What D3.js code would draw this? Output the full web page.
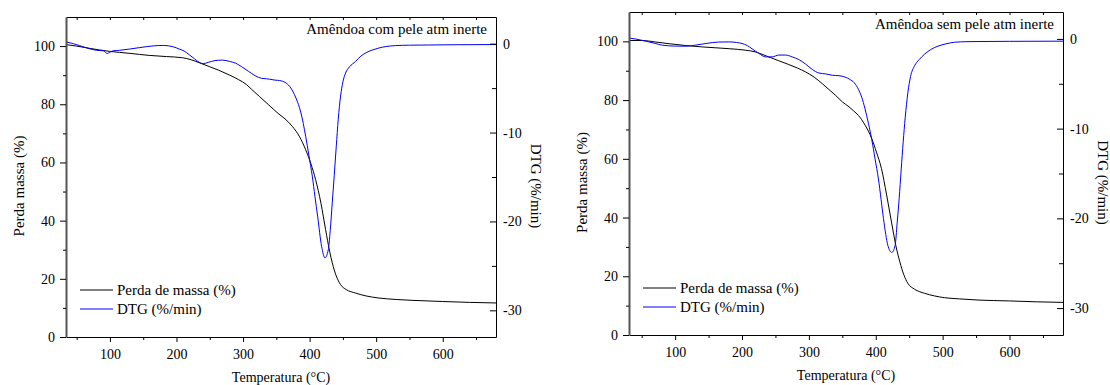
<!DOCTYPE html>
<html>
<head>
<meta charset="utf-8">
<script src="https://cdn.jsdelivr.net/npm/d3@7"></script>
<style>
  body { margin: 0; background: #fff; }
  svg text { font-family: "Liberation Serif", "Times New Roman", Times, "DejaVu Serif", serif; fill: #000; }
</style>
</head>
<body>
<div id="container"></div>
<script>
/* DATA */
// Amêndoa com pele - mass loss (TG)
const comTgTemp = [34, 50, 70, 99, 130, 159, 185, 209, 222, 234, 250, 263.5, 280, 293, 305, 313, 325, 338, 354, 363, 374, 385, 394, 402, 409, 417, 424, 430, 434, 440, 446.5, 455, 469, 485, 504, 530, 554, 600, 640, 680];
const comTgMass = [100.5, 100.0, 99.2, 98.2, 97.5, 96.8, 96.4, 96.0, 95.3, 94.3, 92.9, 91.7, 90.0, 88.5, 86.8, 85.1, 82.6, 79.9, 76.6, 75.0, 72.4, 68.8, 64.4, 59.5, 54.1, 46.0, 36.9, 29.5, 25.5, 21.0, 18.0, 16.3, 15.1, 14.1, 13.4, 12.9, 12.6, 12.2, 11.9, 11.7];
// Amêndoa com pele - DTG
const comDtgTemp = [34, 45, 64, 80, 90, 96, 99, 105, 114, 144, 165, 180, 195, 204, 212, 219, 227, 234, 240, 248, 258, 269, 280, 289, 298, 308, 318, 328, 335, 340, 348, 355, 363, 370, 377, 382, 387, 394, 399, 404, 408, 412, 418, 423, 428, 431, 434, 437, 440, 443, 446.5, 450, 454, 460, 469, 477, 486, 495, 504, 515, 529, 550, 579, 620, 680];
const comDtg = [0.2, 0.0, -0.45, -0.75, -0.8, -1.1, -1.0, -0.8, -0.75, -0.45, -0.25, -0.2, -0.35, -0.6, -0.85, -1.24, -1.7, -2.1, -2.25, -2.1, -1.9, -1.85, -2.0, -2.2, -2.6, -3.1, -3.6, -3.9, -3.95, -4.0, -4.1, -4.15, -4.35, -4.8, -5.7, -6.6, -7.8, -10.4, -12.6, -14.9, -17.2, -19.4, -22.8, -24.1, -23.2, -21.0, -17.9, -14.8, -11.6, -8.5, -5.9, -4.3, -3.3, -2.6, -2.0, -1.4, -0.97, -0.7, -0.49, -0.32, -0.22, -0.17, -0.15, -0.12, -0.1];

// Amêndoa sem pele - mass loss (TG)
const semTgTemp = [31, 51, 70, 91, 115, 141, 181, 205, 220, 230, 240, 255, 270, 283, 295, 308, 320, 330, 340, 350, 360, 367, 374, 384, 394, 401, 408.5, 416, 423.5, 430, 436, 442, 448, 458, 473, 488, 503, 525, 553, 600, 640, 680];
const semTgMass = [100.3, 100.3, 99.8, 99.2, 98.6, 98.1, 97.5, 97.0, 96.4, 95.6, 94.7, 93.4, 92.1, 90.9, 89.6, 87.8, 85.6, 83.6, 81.6, 79.4, 77.7, 76.3, 74.8, 71.5, 66.9, 62.3, 56.7, 48.0, 38.5, 30.5, 24.9, 20.5, 17.6, 15.6, 14.2, 13.3, 12.7, 12.3, 11.9, 11.6, 11.3, 11.1];
// Amêndoa sem pele - DTG
const semDtgTemp = [31, 40, 56, 70, 81, 100, 116, 130, 146, 165, 181, 192, 200, 208, 215, 225, 235, 245, 255, 265, 275, 285, 295, 305, 315, 325, 335, 345, 354, 361, 368, 374, 379, 384, 389, 394, 399, 404, 408, 411.5, 415, 418, 424, 429, 432, 435, 438, 441, 444, 448, 452, 458, 465, 473, 483, 493, 505, 518, 535, 553, 600, 680];
const semDtg = [0.1, 0.0, -0.25, -0.5, -0.7, -0.8, -0.81, -0.7, -0.51, -0.35, -0.33, -0.4, -0.51, -0.75, -1.1, -1.6, -2.0, -2.0, -1.8, -1.8, -2.0, -2.3, -2.8, -3.4, -3.8, -3.9, -4.05, -4.1, -4.25, -4.5, -4.9, -5.6, -6.5, -7.8, -9.4, -11.2, -13.4, -15.6, -17.9, -20.0, -21.8, -23.0, -23.8, -23.0, -20.5, -17.8, -14.6, -11.5, -8.8, -6.0, -4.2, -3.0, -2.3, -1.7, -1.15, -0.81, -0.55, -0.37, -0.31, -0.29, -0.27, -0.25];

// axis ticks
const xTicks = [100, 200, 300, 400, 500, 600];
const xMinor = [50, 150, 250, 350, 450, 550, 650];
const massTicks = [0, 20, 40, 60, 80, 100];
const massMinor = [10, 30, 50, 70, 90];
const dtgTicks = [0, -10, -20, -30];
const dtgMinor = [-5, -15, -25];

const legendLabels = ["Perda de massa (%)", "DTG (%/min)"];
const colors = ["#000000", "#0000ff"];

/* CONSTANTS AND GLOBALS */
const width = 1110;
const height = 385;
const serif = '"Liberation Serif", "Times New Roman", Times, "DejaVu Serif", serif';

const svg = d3.select("#container")
  .append("svg")
  .attr("width", width)
  .attr("height", height)
  .attr("font-family", serif);

function styleTicks(a) {
  a.attr("font-family", serif);
  a.selectAll("text").style("font-size", "14px").style("font-family", serif);
}

function drawPanel(p) {
  const xScale = d3.scaleLinear().domain(p.xDomain).range([p.left, p.right]);
  const yMass = d3.scaleLinear().domain([0, 110]).range([p.bottom, p.top]);
  const yDtg = d3.scaleLinear().domain([-33, 3]).range([p.bottom, p.top]);

  const g = svg.append("g");
  const clipId = "clip-" + p.id;
  g.append("clipPath").attr("id", clipId)
    .append("rect")
    .attr("x", p.left).attr("y", p.top)
    .attr("width", p.right - p.left).attr("height", p.bottom - p.top);

  // lines
  const tg = p.tgTemp.map((t, i) => ({ x: t, y: p.tgMass[i] }));
  const dtg = p.dtgTemp.map((t, i) => ({ x: t, y: p.dtg[i] }));

  const lineTg = d3.line().x(d => xScale(d.x)).y(d => yMass(d.y)).curve(d3.curveMonotoneX);
  const lineDtg = d3.line().x(d => xScale(d.x)).y(d => yDtg(d.y)).curve(d3.curveMonotoneX);

  const lines = g.append("g").attr("clip-path", `url(#${clipId})`);
  lines.append("path").datum(tg)
    .attr("d", lineTg).attr("fill", "none")
    .attr("stroke", colors[0]).attr("stroke-width", 1);
  lines.append("path").datum(dtg)
    .attr("d", lineDtg).attr("fill", "none")
    .attr("stroke", colors[1]).attr("stroke-width", 1);

  const fmt = d => String(d);

  // bottom axis
  g.append("g")
    .attr("transform", `translate(0,${p.bottom})`)
    .call(d3.axisBottom(xScale).tickValues(xTicks).tickFormat(fmt).tickSize(5).tickSizeOuter(0).tickPadding(7))
    .call(styleTicks);
  g.append("g")
    .attr("transform", `translate(0,${p.bottom})`)
    .call(d3.axisBottom(xScale).tickValues(xMinor).tickSize(3).tickSizeOuter(0).tickFormat(""))
    .call(a => a.select(".domain").remove());

  // top axis (ticks inside)
  g.append("g")
    .attr("transform", `translate(0,${p.top})`)
    .call(d3.axisTop(xScale).tickValues(xTicks.concat(xMinor)).tickSize(-3).tickSizeOuter(0).tickFormat(""));

  // left axis
  g.append("g")
    .attr("transform", `translate(${p.left},0)`)
    .call(d3.axisLeft(yMass).tickValues(massTicks).tickFormat(fmt).tickSize(6).tickSizeOuter(0).tickPadding(5))
    .call(styleTicks)
    .call(a => a.select(".domain").attr("stroke", "#555").attr("stroke-width", 2));
  g.append("g")
    .attr("transform", `translate(${p.left},0)`)
    .call(d3.axisLeft(yMass).tickValues(massMinor).tickSize(3).tickFormat(""))
    .call(a => a.select(".domain").remove());

  // right axis (ticks inside)
  g.append("g")
    .attr("transform", `translate(${p.right},0)`)
    .call(d3.axisRight(yDtg).tickValues(dtgTicks).tickFormat(fmt).tickSize(-6).tickSizeOuter(0).tickPadding(7))
    .call(styleTicks);
  g.append("g")
    .attr("transform", `translate(${p.right},0)`)
    .call(d3.axisRight(yDtg).tickValues(dtgMinor).tickSize(-4).tickFormat(""))
    .call(a => a.select(".domain").remove());

  // title inside plot
  g.append("text")
    .attr("x", p.right - 9).attr("y", p.top + 17)
    .attr("text-anchor", "end")
    .style("font-size", "15px")
    .text(p.title);

  // legend
  legendLabels.forEach((lab, i) => {
    const ly = p.bottom - 47 + i * 19;
    g.append("line")
      .attr("x1", p.left + 14).attr("x2", p.left + 47)
      .attr("y1", ly).attr("y2", ly)
      .attr("stroke", colors[i]).attr("stroke-width", 1);
    g.append("text")
      .attr("x", p.left + 51).attr("y", ly + 5)
      .style("font-size", "15px")
      .text(lab);
  });

  // axis labels
  g.append("text")
    .attr("x", (p.left + p.right) / 2).attr("y", p.bottom + 45)
    .attr("text-anchor", "middle")
    .style("font-size", "14px")
    .text("Temperatura (°C)");

  const midY = (p.top + p.bottom) / 2 + 9;
  g.append("text")
    .attr("transform", `translate(${p.left - 47},${midY}) rotate(-90)`)
    .attr("text-anchor", "middle")
    .attr("dy", "0.35em")
    .style("font-size", "15px")
    .text("Perda massa (%)");

  g.append("text")
    .attr("transform", `translate(${p.right + 40},${midY}) rotate(90)`)
    .attr("text-anchor", "middle")
    .attr("dy", "0.35em")
    .style("font-size", "15px")
    .text("DTG (%/min)");
}

drawPanel({
  id: "com", left: 66, right: 496, top: 17, bottom: 337, xDomain: [34, 680],
  title: "Amêndoa com pele atm inerte",
  tgTemp: comTgTemp, tgMass: comTgMass, dtgTemp: comDtgTemp, dtg: comDtg
});

drawPanel({
  id: "sem", left: 629, right: 1063, top: 12, bottom: 335, xDomain: [31, 680],
  title: "Amêndoa sem pele atm inerte",
  tgTemp: semTgTemp, tgMass: semTgMass, dtgTemp: semDtgTemp, dtg: semDtg
});
</script>
</body>
</html>
